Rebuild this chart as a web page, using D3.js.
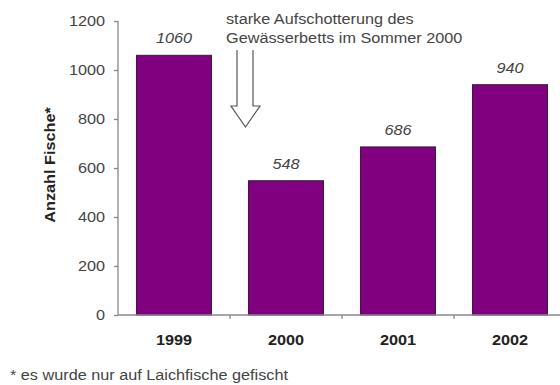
<!DOCTYPE html>
<html>
<head>
<meta charset="utf-8">
<script src="https://cdn.jsdelivr.net/npm/d3@7/dist/d3.min.js"></script>
<style>
  html, body { margin: 0; padding: 0; background: #fff; }
  svg { display: block; font-family: Arial, "Liberation Sans", sans-serif; }
</style>
</head>
<body>
<svg id="chart" width="560" height="385"></svg>
<script>
// Catch counts per year
const years = ["1999", "2000", "2001", "2002"];
const counts = [1060, 548, 686, 940];
const yTicks = [0, 200, 400, 600, 800, 1000, 1200];
const noteLines = ["starke Aufschotterung des", "Gewässerbetts im Sommer 2000"];
const axisTitle = "Anzahl Fische*";
const footnote = "* es wurde nur auf Laichfische gefischt";

const FONT = 14;      // px
const WIDEN = 1.16;   // horizontal glyph widening

const svg = d3.select("#chart");

const x = d3.scaleBand().domain(years).range([118, 566]).paddingInner(0.33).paddingOuter(0.165);
const y = d3.scaleLinear().domain([0, 1200]).range([315, 21]);

// text placed at (px, py) and widened along its direction
function label(g, px, py, txt, opts = {}) {
  const rot = opts.rotate ? ` rotate(${opts.rotate})` : "";
  return g.append("text")
    .attr("transform", `translate(${px},${py})${rot} scale(${WIDEN},1)`)
    .attr("text-anchor", opts.anchor || "start")
    .attr("font-size", opts.size || FONT)
    .attr("font-weight", opts.weight || "normal")
    .attr("font-style", opts.style || "normal")
    .attr("fill", opts.fill || "#333")
    .text(txt);
}

// y axis
const yAxis = svg.append("g")
  .attr("transform", "translate(118,0)")
  .call(d3.axisLeft(y).tickValues(yTicks).tickSize(4).tickFormat(""));
yAxis.select(".domain").attr("stroke", "#888").attr("stroke-width", 1.3).attr("d", "M0,21V315");
yAxis.selectAll(".tick line").attr("stroke", "#888").attr("stroke-width", 1.3);
const yLabels = svg.append("g");
yTicks.forEach(t => label(yLabels, 105, y(t) + 5, d3.format("d")(t), { anchor: "end", fill: "#444" }));

// bars
svg.append("g").selectAll("rect")
  .data(years)
  .join("rect")
  .attr("x", d => x(d))
  .attr("width", x.bandwidth())
  .attr("y", (d, i) => y(counts[i]))
  .attr("height", (d, i) => y(0) - y(counts[i]))
  .attr("fill", "#800080")
  .attr("stroke", "#3a1a3a")
  .attr("stroke-width", 1);

// x axis: ticks sit between categories
const gap = (x.step() - x.bandwidth()) / 2;
const xAxis = svg.append("g").attr("transform", "translate(0,315)");
xAxis.append("line").attr("x1", 118).attr("x2", 566).attr("stroke", "#888").attr("stroke-width", 1.3);
xAxis.selectAll("line.sep")
  .data(years.slice(1))
  .join("line")
  .attr("class", "sep")
  .attr("x1", d => x(d) - gap)
  .attr("x2", d => x(d) - gap)
  .attr("y1", 0).attr("y2", 4)
  .attr("stroke", "#888").attr("stroke-width", 1.3);
const xLabels = svg.append("g");
years.forEach(d => label(xLabels, x(d) + x.bandwidth() / 2, 345, d,
  { anchor: "middle", weight: "bold", fill: "#222" }));

// value labels
const vLabels = svg.append("g");
years.forEach((d, i) => label(vLabels, x(d) + x.bandwidth() / 2, y(counts[i]) - 12, String(counts[i]),
  { anchor: "middle", style: "italic", fill: "#444" }));

// y axis title
label(svg, 54.5, 165, axisTitle, { anchor: "middle", weight: "bold", fill: "#222", rotate: -90 });

// annotation
const note = svg.append("g");
noteLines.forEach((t, i) => label(note, 226, 24 + i * 19, t, { fill: "#444" }));

// hollow arrow pointing down toward the 2000 bar
svg.append("path")
  .attr("d", "M237,50 L237,106 L231,106 L245.5,127 L260,106 L253,106 L253,50")
  .attr("fill", "#fff")
  .attr("stroke", "#555")
  .attr("stroke-width", 1.2)
  .attr("stroke-linejoin", "miter");

// footnote
label(svg, 10, 380, footnote, { fill: "#444" });
</script>
</body>
</html>
